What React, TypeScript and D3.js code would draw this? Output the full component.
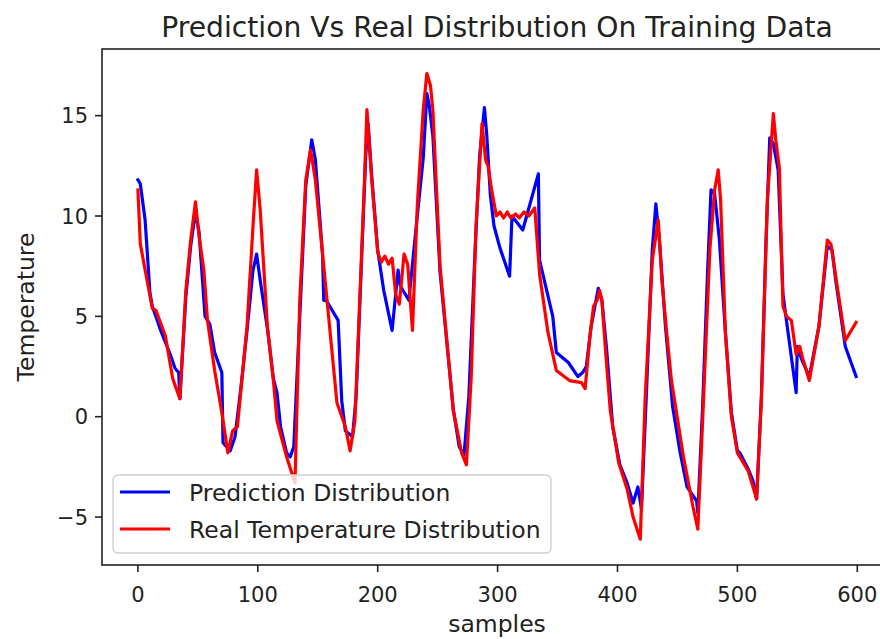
import * as d3 from "d3";

// values (sample index, temperature)
const predSamples = [0, 2, 6, 10, 12, 19, 27, 31, 34, 35, 40, 44, 48, 51, 56, 60, 64, 70, 71, 77, 81, 86, 91, 96, 99, 102, 108, 113, 116, 119, 124, 127, 130, 135, 140, 145, 148, 154, 155, 157, 167, 170, 173, 179, 182, 186, 190, 192, 195, 200, 205, 212, 217, 219, 226, 233, 238, 241, 243, 246, 252, 263, 268, 272, 276, 281, 285, 289, 291, 294, 297, 302, 310, 312, 321, 334, 335, 346, 349, 359, 367, 371, 374, 378, 384, 387, 391, 396, 402, 408, 413, 417, 420, 424, 429, 432, 435, 440, 446, 452, 458, 466, 467, 471, 475, 478, 481, 485, 490, 495, 500, 502, 509, 513, 516, 520, 524, 527, 530, 534, 538, 540, 549, 550, 554, 560, 568, 575, 579, 582, 590, 599];
const predValues = [11.8, 11.6, 9.8, 6.2, 5.5, 4.3, 3.1, 2.4, 2.2, 0.9, 6.0, 8.5, 10.2, 9.2, 5.0, 4.6, 3.2, 2.2, -1.3, -1.7, -1.0, 1.5, 4.3, 7.3, 8.1, 6.8, 4.4, 1.9, 1.2, -0.5, -1.8, -2.0, -1.5, 5.0, 11.5, 13.8, 12.8, 8.1, 5.8, 5.8, 4.8, 0.8, -0.7, -1.0, 1.0, 7.0, 13.0, 14.6, 12.0, 8.3, 6.3, 4.3, 7.3, 6.5, 5.8, 10.0, 12.9, 16.1, 15.5, 14.0, 7.2, 0.4, -1.5, -1.9, 1.0, 8.0, 13.0, 15.4, 14.0, 11.0, 9.5, 8.4, 7.0, 10.0, 9.3, 12.1, 7.8, 5.0, 3.2, 2.7, 2.0, 2.2, 2.5, 4.5, 6.4, 5.8, 3.3, -0.5, -2.4, -3.3, -4.3, -3.5, -4.6, 1.0, 8.3, 10.6, 8.8, 4.5, 0.5, -1.7, -3.5, -4.2, -4.8, 0.5, 7.0, 11.3, 11.1, 8.8, 4.2, 0.2, -1.7, -1.8, -2.6, -3.2, -4.1, 1.0, 9.0, 13.9, 13.6, 12.3, 6.1, 5.2, 1.2, 3.5, 2.8, 2.0, 4.5, 8.5, 8.3, 6.8, 3.5, 2.0];

const realSamples = [0, 2, 7, 12, 15, 23, 29, 32, 35, 40, 44, 48, 51, 55, 58, 64, 70, 75, 79, 83, 91, 96, 99, 102, 108, 113, 116, 124, 131, 135, 140, 144, 148, 154, 166, 173, 177, 181, 185, 189, 191, 195, 200, 203, 206, 209, 212, 215, 218, 222, 225, 229, 233, 238, 241, 244, 246, 252, 263, 270, 274, 278, 282, 287, 290, 292, 295, 299, 302, 305, 308, 311, 315, 318, 322, 326, 331, 335, 342, 349, 360, 370, 373, 377, 380, 383, 385, 387, 390, 394, 401, 408, 413, 419, 423, 429, 434, 437, 441, 445, 455, 463, 467, 471, 477, 481, 484, 486, 490, 495, 500, 509, 516, 520, 525, 530, 532, 535, 538, 541, 545, 549, 552, 554, 560, 568, 575, 578, 582, 590, 599];
const realValues = [11.3, 8.6, 7.0, 5.4, 5.3, 4.0, 1.9, 1.4, 0.9, 6.3, 8.8, 10.7, 9.0, 7.3, 4.8, 2.3, 0.2, -1.8, -0.7, -0.5, 4.5, 9.5, 12.3, 10.3, 4.5, 1.8, -0.2, -2.0, -3.3, 5.8, 11.8, 13.3, 11.8, 8.1, 0.7, -0.5, -1.7, -0.2, 5.8, 11.8, 15.3, 11.8, 8.2, 7.7, 8.0, 7.6, 7.9, 6.1, 5.6, 8.1, 7.6, 4.3, 10.5, 15.3, 17.1, 16.5, 15.3, 7.5, 0.3, -1.8, -2.4, 2.0, 9.5, 14.6, 12.8, 12.5, 11.3, 10.0, 10.2, 9.9, 10.2, 9.9, 10.1, 9.9, 10.2, 10.0, 10.4, 7.1, 4.2, 2.3, 1.8, 1.7, 1.4, 4.0, 5.5, 5.8, 6.3, 5.8, 3.3, 0.3, -2.3, -3.6, -5.0, -6.1, 0.8, 7.8, 9.8, 6.8, 4.2, 1.8, -2.0, -4.5, -5.6, -0.2, 8.3, 11.3, 12.3, 10.8, 4.2, 0.0, -1.8, -2.7, -4.1, 0.8, 10.8, 15.1, 13.8, 12.4, 5.5, 5.0, 4.8, 3.1, 3.5, 3.0, 1.8, 4.5, 8.8, 8.6, 7.0, 3.8, 4.7];

const xTicks = [0, 100, 200, 300, 400, 500, 600];
const yTicks = [-5, 0, 5, 10, 15];
const seriesNames = ["Prediction Distribution", "Real Temperature Distribution"];
const seriesColors = ["#0000ff", "#ff0000"];

const W = 880, H = 639;
const left = 102, right = 892, top = 49, bottom = 565;
const font = "DejaVu Sans, sans-serif";

export default function App() {
  const x = d3.scaleLinear().domain([-29.95, 628.95]).range([left, right]);
  const y = d3.scaleLinear().domain([-7.389, 18.321]).range([bottom, top]);

  const line = d3.line<[number, number]>()
    .x((d) => x(d[0]))
    .y((d) => y(d[1]));

  const pred: [number, number][] = predSamples.map((s, i) => [s, predValues[i]]);
  const real: [number, number][] = realSamples.map((s, i) => [s, realValues[i]]);

  const legendTop = 475, legendLeft = 113;

  return (
    <svg width={W} height={H} style={{ position: "absolute", left: 0, top: 0, background: "#fff" }}
      fontFamily={font}>
      <defs>
        <clipPath id="plotArea">
          <rect x={left} y={top} width={right - left} height={bottom - top} />
        </clipPath>
      </defs>

      <text x={(left + right) / 2} y={37} textAnchor="middle" fontSize={28.2} fill="#222">
        Prediction Vs Real Distribution On Training Data
      </text>

      <g clipPath="url(#plotArea)" fill="none" strokeWidth={3.2} strokeLinejoin="round" strokeLinecap="square">
        <path d={line(pred) || ""} stroke={seriesColors[0]} />
        <path d={line(real) || ""} stroke={seriesColors[1]} />
      </g>

      {/* spines */}
      <rect x={left} y={top} width={right - left} height={bottom - top} fill="none" stroke="#222" strokeWidth={1.6} />

      {/* x axis */}
      {xTicks.map((t) => (
        <g key={"x" + t}>
          <line x1={x(t)} x2={x(t)} y1={bottom} y2={bottom + 7} stroke="#222" strokeWidth={1.6} />
          <text x={x(t)} y={602} textAnchor="middle" fontSize={21} fill="#222">{t}</text>
        </g>
      ))}
      <text x={(left + right) / 2} y={632} textAnchor="middle" fontSize={23.5} fill="#222">samples</text>

      {/* y axis */}
      {yTicks.map((t) => (
        <g key={"y" + t}>
          <line x1={left - 7} x2={left} y1={y(t)} y2={y(t)} stroke="#222" strokeWidth={1.6} />
          <text x={88} y={y(t) + 7.5} textAnchor="end" fontSize={21} fill="#222">
            {t < 0 ? "\u2212" + Math.abs(t) : t}
          </text>
        </g>
      ))}
      <text transform={`translate(34,${(top + bottom) / 2}) rotate(-90)`} textAnchor="middle" fontSize={23.5} fill="#222">
        Temperature
      </text>

      {/* legend */}
      <rect x={legendLeft} y={legendTop} width={438} height={78} rx={5} fill="#fff" fillOpacity={0.8}
        stroke="#cfcfcf" strokeWidth={1.4} />
      {seriesNames.map((name, i) => {
        const ly = 492 + i * 37;
        return (
          <g key={name}>
            <line x1={120} x2={170} y1={ly} y2={ly} stroke={seriesColors[i]} strokeWidth={3.2} />
            <text x={189} y={ly + 9} fontSize={23.5} fill="#222">{name}</text>
          </g>
        );
      })}
    </svg>
  );
}
